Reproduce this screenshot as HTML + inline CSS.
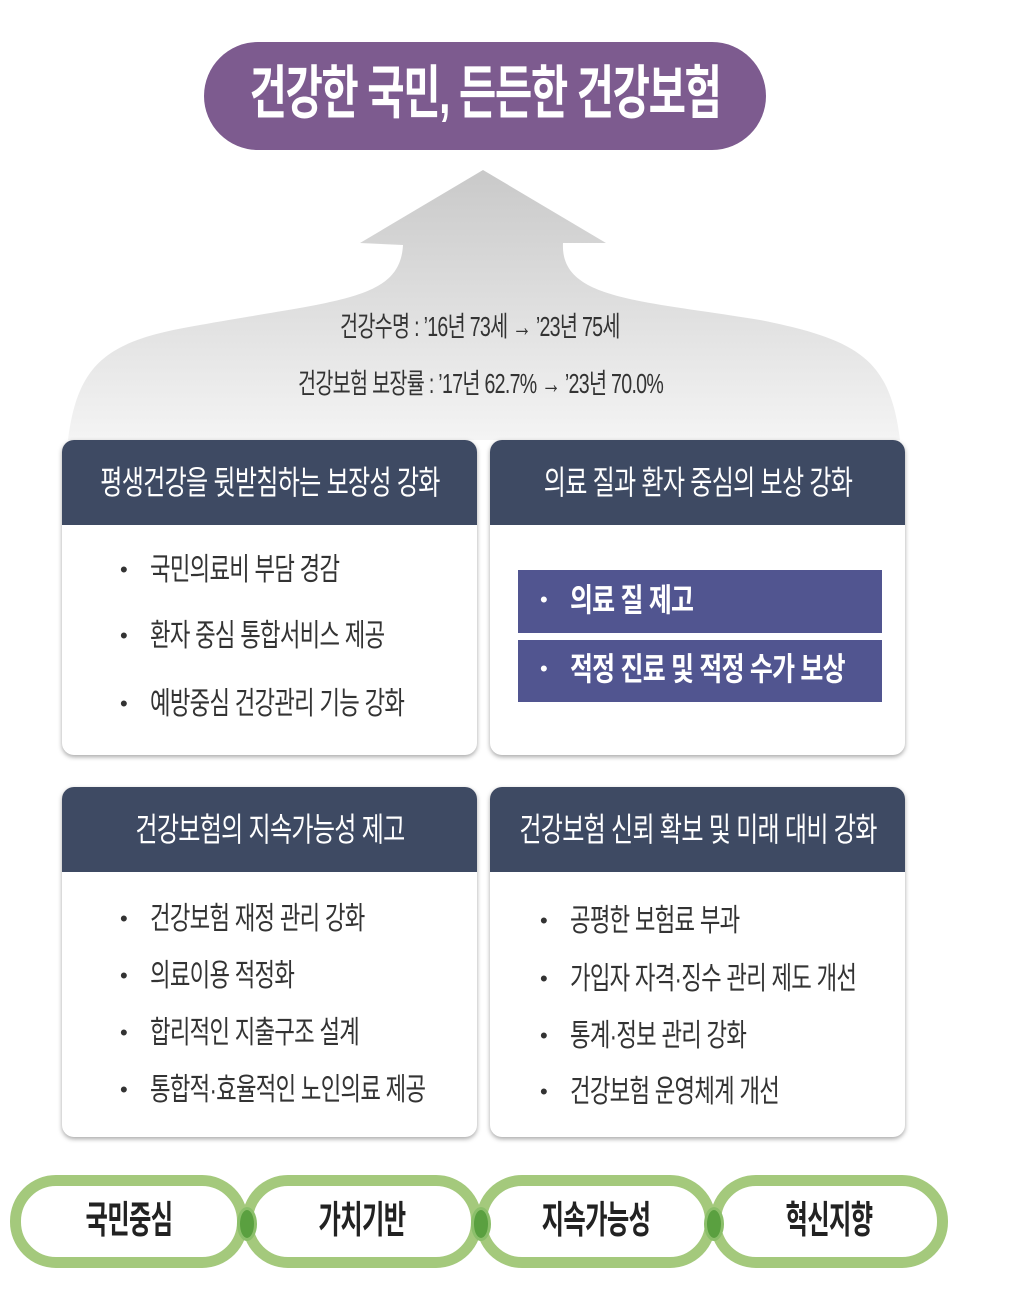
<!DOCTYPE html>
<html><head><meta charset="utf-8"><style>
body{margin:0;width:1027px;height:1292px;background:#fff;position:relative;overflow:hidden;font-family:"Liberation Sans","Noto Sans CJK KR",sans-serif;}
.a{position:absolute;}
.c{position:absolute;left:50%;top:0;white-space:nowrap;}
.t{position:absolute;white-space:nowrap;transform-origin:left center;}
.box{position:absolute;background:#fff;border-radius:12px;box-shadow:0 2px 5px rgba(0,0,0,.35);overflow:hidden;}
.hd{position:absolute;left:0;right:0;top:0;height:85px;background:#3e4a63;color:#fff;font-size:33px;line-height:85px;letter-spacing:-1px;}
.hd .c{transform:translateX(-50%) scaleX(.73);}
.li{position:absolute;font-size:31px;line-height:40px;color:#333;letter-spacing:-1px;white-space:nowrap;transform:scaleX(.72);transform-origin:left center;}
.bu{position:absolute;font-size:22px;line-height:40px;color:#333;}
.g{position:absolute;top:1175px;height:93px;border:11px solid #a4c97c;border-radius:46px;box-sizing:border-box;background:#fff;line-height:70px;font-size:38px;color:#222;font-weight:bold;letter-spacing:-1px;}
.g .c{transform:translateX(-50%) scaleX(.64);}
.dot{position:absolute;top:1207px;width:14px;height:28px;border-radius:50%;background:#5aa040;border:3px solid #8bbf6a;}
</style></head><body>
<svg class="a" style="left:0;top:0" width="1027" height="460">
<defs><linearGradient id="gr" x1="0" y1="0" x2="0" y2="1"><stop offset="0" stop-color="#c9c9c9"/><stop offset="1" stop-color="#f4f4f4"/></linearGradient></defs>
<path d="M483 170 L606 243 L563 243 C560 300 640 300 760 320 C860 340 890 360 900 440 L68 440 C78 360 110 340 200 325 C340 300 400 300 403 245 L360 243 Z" fill="url(#gr)"/>
</svg>
<div class="a" style="left:204px;top:42px;width:562px;height:108px;border-radius:54px;background:#7d5b8f;color:#fff;font-size:58px;font-weight:bold;line-height:104px;letter-spacing:-2px;"><span class="c" style="transform:translateX(-50%) scaleX(.7)">건강한 국민, 든든한 건강보험</span></div>
<div class="t" style="left:340px;top:305px;font-size:28px;color:#333;letter-spacing:-1px;transform:scaleX(.7);">건강수명 : ’16년 73세 → ’23년 75세</div>
<div class="t" style="left:298px;top:362px;font-size:28px;color:#333;letter-spacing:-1px;transform:scaleX(.7);">건강보험 보장률 : ’17년 62.7% → ’23년 70.0%</div>

<div class="box" style="left:62px;top:440px;width:415px;height:315px;">
<div class="hd"><span class="c">평생건강을 뒷받침하는 보장성 강화</span></div>
<div class="bu" style="left:58px;top:110px">•</div><div class="li" style="left:88px;top:110px">국민의료비 부담 경감</div>
<div class="bu" style="left:58px;top:176px">•</div><div class="li" style="left:88px;top:176px">환자 중심 통합서비스 제공</div>
<div class="bu" style="left:58px;top:244px">•</div><div class="li" style="left:88px;top:244px">예방중심 건강관리 기능 강화</div>
</div>
<div class="box" style="left:490px;top:440px;width:415px;height:315px;">
<div class="hd"><span class="c">의료 질과 환자 중심의 보상 강화</span></div>
<div class="a" style="left:28px;top:130px;width:364px;height:63px;background:#515590;"></div>
<div class="a" style="left:28px;top:200px;width:364px;height:62px;background:#515590;"></div>
<div class="bu" style="left:50px;top:140px;color:#fff">•</div><div class="li" style="left:80px;top:140px;color:#fff;font-weight:bold;font-size:32px;transform:scaleX(.78)">의료 질 제고</div>
<div class="bu" style="left:50px;top:209px;color:#fff">•</div><div class="li" style="left:80px;top:209px;color:#fff;font-weight:bold;font-size:32px;transform:scaleX(.78)">적정 진료 및 적정 수가 보상</div>
</div>
<div class="box" style="left:62px;top:787px;width:415px;height:350px;">
<div class="hd"><span class="c">건강보험의 지속가능성 제고</span></div>
<div class="bu" style="left:58px;top:112px">•</div><div class="li" style="left:88px;top:112px">건강보험 재정 관리 강화</div>
<div class="bu" style="left:58px;top:169px">•</div><div class="li" style="left:88px;top:169px">의료이용 적정화</div>
<div class="bu" style="left:58px;top:226px">•</div><div class="li" style="left:88px;top:226px">합리적인 지출구조 설계</div>
<div class="bu" style="left:58px;top:283px">•</div><div class="li" style="left:88px;top:283px">통합적·효율적인 노인의료 제공</div>
</div>
<div class="box" style="left:490px;top:787px;width:415px;height:350px;">
<div class="hd"><span class="c">건강보험 신뢰 확보 및 미래 대비 강화</span></div>
<div class="bu" style="left:50px;top:114px">•</div><div class="li" style="left:80px;top:114px">공평한 보험료 부과</div>
<div class="bu" style="left:50px;top:172px">•</div><div class="li" style="left:80px;top:172px">가입자 자격·징수 관리 제도 개선</div>
<div class="bu" style="left:50px;top:229px">•</div><div class="li" style="left:80px;top:229px">통계·정보 관리 강화</div>
<div class="bu" style="left:50px;top:285px">•</div><div class="li" style="left:80px;top:285px">건강보험 운영체계 개선</div>
</div>

<div class="g" style="left:10px;width:238px;"><span class="c">국민중심</span></div>
<div class="g" style="left:242px;width:240px;"><span class="c">가치기반</span></div>
<div class="g" style="left:476px;width:240px;"><span class="c">지속가능성</span></div>
<div class="g" style="left:710px;width:238px;"><span class="c">혁신지향</span></div>
<div class="dot" style="left:237px"></div>
<div class="dot" style="left:471px"></div>
<div class="dot" style="left:704px"></div>
</body></html>
